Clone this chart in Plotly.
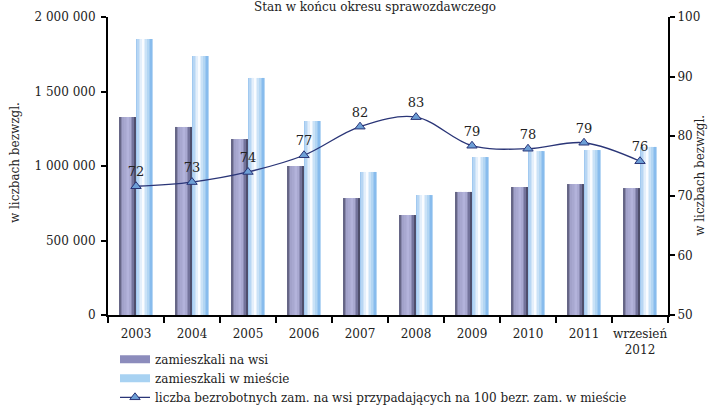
import plotly.graph_objects as go

categories = ["2003", "2004", "2005", "2006", "2007", "2008", "2009", "2010", "2011", "wrzesień<br>2012"]
wies = [1329000, 1262000, 1181000, 1000000, 785000, 671000, 826000, 859000, 879000, 852000]
miasto = [1852000, 1738000, 1591000, 1302000, 960000, 805000, 1060000, 1100000, 1107000, 1128000]
ratio = [71.6, 72.3, 74.0, 76.8, 81.6, 83.2, 78.4, 77.9, 78.9, 75.8]
ratio_labels = ["72", "73", "74", "77", "82", "83", "79", "78", "79", "76"]
left_ticks = [0, 500000, 1000000, 1500000, 2000000]
left_ticktext = ["0", "500 000", "1 000 000", "1 500 000", "2 000 000"]

FONT = "DejaVu Serif, Liberation Serif, serif"
BAR_W = 0.295
N = 10

def lerp(c1, c2, t):
    return tuple(int(round(a + (b - a) * t)) for a, b in zip(c1, c2))

def grad(stops, t):
    for i in range(len(stops) - 1):
        p0, c0 = stops[i]
        p1, c1 = stops[i + 1]
        if p0 <= t <= p1:
            return lerp(c0, c1, (t - p0) / (p1 - p0) if p1 > p0 else 0)
    return stops[-1][1]

dark_stops = [(0, (85, 85, 115)), (0.22, (160, 160, 200)), (0.6, (182, 182, 222)), (0.85, (115, 115, 155)), (1, (60, 60, 85))]
light_stops = [(0, (150, 195, 238)), (0.45, (250, 252, 255)), (0.7, (190, 220, 245)), (1, (125, 182, 235))]

fig = go.Figure()

def add_gradient_bars(values, name, stops, start, legend_color):
    sw = BAR_W / N
    for i in range(N):
        t = (i + 0.5) / N
        c = "rgb(%d,%d,%d)" % grad(stops, t)
        fig.add_trace(go.Bar(
            x=categories, y=values, name=name,
            width=sw * 1.05, offset=start + i * sw,
            marker=dict(color=c, line=dict(width=0)),
            showlegend=False, hoverinfo="skip",
        ))
    # legend entry (wide swatch like the original)
    fig.add_trace(go.Scatter(
        x=[None], y=[None], name=name, mode="lines",
        line=dict(color=legend_color, width=8),
        showlegend=True,
    ))

add_gradient_bars(wies, "zamieszkali na wsi", dark_stops, -BAR_W, "#8c8cbc")
add_gradient_bars(miasto, "zamieszkali w mieście", light_stops, 0.0, "#a8d2f2")

fig.add_trace(go.Scatter(
    x=categories, y=ratio, yaxis="y2",
    name="liczba bezrobotnych zam. na wsi przypadających na 100 bezr. zam. w mieście",
    mode="lines+markers+text",
    line=dict(color="#2a3577", width=1.3, shape="spline", smoothing=1.0),
    marker=dict(symbol="triangle-up", size=9, color="#6d9fd6", line=dict(color="#2a3577", width=1)),
    text=ratio_labels, textposition="top center",
    textfont=dict(family=FONT, size=13, color="#222222"),
    cliponaxis=False,
))

fig.update_layout(
    width=713, height=406,
    margin=dict(l=108, r=45, t=17, b=91, autoexpand=False),
    paper_bgcolor="white", plot_bgcolor="white",
    barmode="overlay",
    font=dict(family=FONT, size=12, color="#222222"),
    xaxis=dict(
        type="category", range=[-0.5, 9.5], tickson="boundaries",
        ticks="outside", ticklen=6, tickwidth=1.5, tickcolor="black",
        showline=True, linecolor="black", linewidth=2, tickangle=0,
        showgrid=False, tickfont=dict(size=12), automargin=False,
        ticklabelstandoff=7,
    ),
    yaxis=dict(
        range=[0, 2000000], tickvals=left_ticks, ticktext=left_ticktext,
        ticks="outside", ticklen=5, tickwidth=1.5, tickcolor="black",
        showline=True, linecolor="black", linewidth=2,
        showgrid=False, zeroline=False, tickfont=dict(size=12), automargin=False,
        ticklabelstandoff=3,
    ),
    yaxis2=dict(
        range=[50, 100], dtick=10, overlaying="y", side="right",
        ticks="outside", ticklen=5, tickwidth=1.5, tickcolor="black",
        showline=True, linecolor="black", linewidth=2,
        showgrid=False, zeroline=False, tickfont=dict(size=12), automargin=False,
    ),
    legend=dict(
        x=0.0125, y=-0.1, xanchor="left", yanchor="top",
        bgcolor="rgba(0,0,0,0)", font=dict(size=12),
        tracegroupgap=0, itemwidth=30,
    ),
    showlegend=True,
    annotations=[
        dict(text="Stan w końcu okresu sprawozdawczego", x=0.477, y=1.035,
             xref="paper", yref="paper", showarrow=False, font=dict(size=12),
             xanchor="center", yanchor="middle"),
        dict(text="w liczbach bezwzgl.", x=-0.166, y=0.51, xref="paper", yref="paper",
             showarrow=False, textangle=-90, font=dict(size=12),
             xanchor="center", yanchor="middle"),
        dict(text="w liczbach bezwzgl.", x=1.057, y=0.47, xref="paper", yref="paper",
             showarrow=False, textangle=-90, font=dict(size=12),
             xanchor="center", yanchor="middle"),
    ],
)

fig.write_html(
    "out.html",
    config={"displayModeBar": False},
    post_script="document.body.style.margin='0';document.body.style.padding='0';",
)
